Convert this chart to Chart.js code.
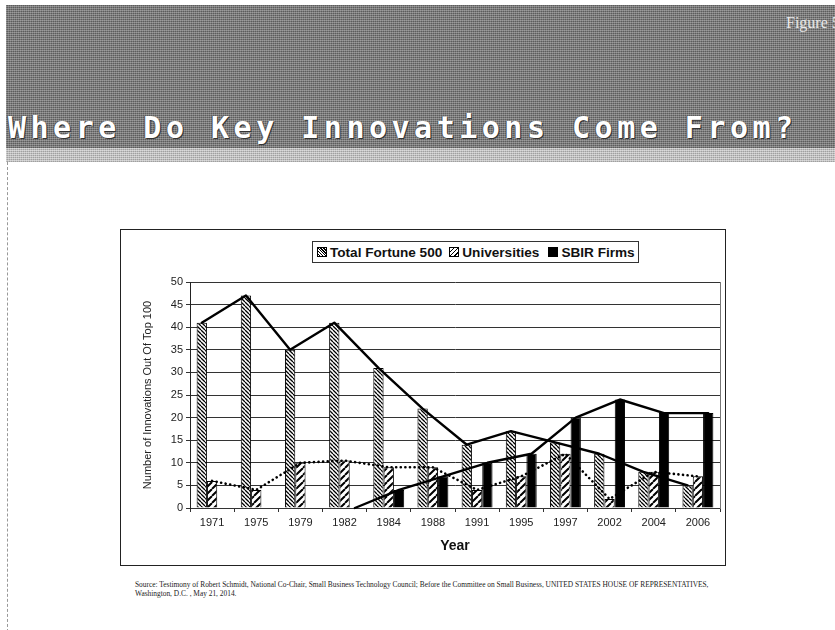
<!DOCTYPE html>
<html>
<head>
<meta charset="utf-8">
<script src="https://cdn.jsdelivr.net/npm/chart.js@4/dist/chart.umd.min.js"></script>
<style>
  body { margin: 0; width: 835px; height: 630px; background: #fff; position: relative; overflow: hidden; font-family: "Liberation Sans", Arial, sans-serif; }
  #header { position: absolute; left: 6px; top: 5px; width: 835px; height: 143px;
    background:
      repeating-linear-gradient(90deg, rgba(255,255,255,0.18) 0 1px, rgba(0,0,0,0) 1px 2px),
      repeating-linear-gradient(0deg, #5c5c5c 0 1px, #868686 1px 2px); }
  #stripe { position: absolute; left: 6px; top: 148px; width: 835px; height: 14px;
    background:
      repeating-linear-gradient(90deg, rgba(255,255,255,0.3) 0 1px, rgba(0,0,0,0) 1px 2px),
      repeating-linear-gradient(0deg, #a0a0a0 0 1px, #cacaca 1px 2px); }
  #fig { position: absolute; left: 786px; top: 14px; font: 16px "Liberation Serif", serif; color: #e8e8e8; white-space: nowrap; }
  #title { position: absolute; left: 8px; top: 110px; font: bold 30px "DejaVu Sans Mono", monospace; letter-spacing: 4.5px;
    color: #fff; text-shadow: 1px 1px 0 #333, -1px 0 0 #555; white-space: nowrap; }
  #leftline { position: absolute; left: 7px; top: 162px; height: 470px; border-left: 1px dashed #999; }
  #frame { position: absolute; left: 120px; top: 229px; width: 604px; height: 335px; border: 1px solid #222; }
  #legend { position: absolute; left: 312px; top: 241px; width: 325px; height: 20px; border: 1px solid #333; background: #fff;
    display: flex; align-items: center; font: bold 13.6px "Liberation Sans", Arial, sans-serif; color: #111; white-space: nowrap; }
  #legend span.sw { display: inline-block; width: 8px; height: 8px; border: 1px solid #000; margin: 0 3px 0 4px; }
  #source { position: absolute; left: 135px; top: 581px; width: 600px; font: 7.4px "Liberation Serif", serif; color: #222; line-height: 8.5px; }
</style>
</head>
<body>
<div id="header"></div>
<div id="stripe"></div>
<div id="fig">Figure 5</div>
<div id="title">Where Do Key Innovations Come From?</div>
<div id="leftline"></div>
<div id="frame"><canvas id="chart" width="604" height="335"></canvas></div>
<div id="legend">
  <span class="sw" style="background: repeating-linear-gradient(45deg, #fff 0 1px, #000 1px 2px);"></span>Total Fortune 500
  <span class="sw" style="margin-left: 7px; background: repeating-linear-gradient(-45deg, #fff 0 2px, #000 2px 3px);"></span>Universities
  <span class="sw" style="margin-left: 9px; background: #000;"></span>SBIR Firms
</div>
<div id="source">Source: Testimony of Robert Schmidt, National Co-Chair, Small Business Technology Council; Before the Committee on Small Business, UNITED STATES HOUSE OF REPRESENTATIVES,<br>Washington, D.C. , May 21, 2014.</div>
<script>
const years = ["1971", "1975", "1979", "1982", "1984", "1988", "1991", "1995", "1997", "2002", "2004", "2006"];
const fortune500 = [41, 47, 35, 41, 31, 22, 14, 17, 14.5, 12, 8, 5];
const universities = [6, 4, 10, 10.5, 9, 9, 4, 7, 12, 2, 8, 7];
const sbirFirms = [null, null, null, 0, 4, 7, 10, 12, 20, 24, 21, 21];
const yTicks = [0, 5, 10, 15, 20, 25, 30, 35, 40, 45, 50];

function hatch(size, lw, back) {
  const c = document.createElement("canvas");
  c.width = c.height = size;
  const g = c.getContext("2d");
  g.fillStyle = "#fff";
  g.fillRect(0, 0, size, size);
  g.strokeStyle = "#000";
  g.lineWidth = lw;
  g.beginPath();
  for (const k of [-size, 0, size]) {
    if (back) { g.moveTo(k, 0); g.lineTo(k + size, size); }
    else { g.moveTo(k + size, 0); g.lineTo(k, size); }
  }
  g.stroke();
  return g.createPattern(c, "repeat");
}

// connects bar tops of a dataset, like the trend lines in the original
const trendLines = {
  id: "trendLines",
  afterDatasetsDraw(chart) {
    const ctx = chart.ctx;
    const specs = [
      { index: 0, dash: [], width: 2.4 },
      { index: 1, dash: [0.1, 4.5], width: 2.6 },
      { index: 2, dash: [], width: 2.4 }
    ];
    specs.forEach(s => {
      const meta = chart.getDatasetMeta(s.index);
      const vals = chart.data.datasets[s.index].data;
      ctx.save();
      ctx.strokeStyle = "#000";
      ctx.lineWidth = s.width;
      ctx.setLineDash(s.dash);
      ctx.lineCap = "round";
      ctx.lineJoin = "round";
      ctx.beginPath();
      let started = false;
      meta.data.forEach((el, i) => {
        if (vals[i] === null) return;
        if (!started) { ctx.moveTo(el.x, el.y); started = true; }
        else ctx.lineTo(el.x, el.y);
      });
      ctx.stroke();
      ctx.restore();
    });
  }
};

window.onload = function () {
  new Chart(document.getElementById("chart"), {
    type: "bar",
    data: {
      labels: years,
      datasets: [
        { label: "Total Fortune 500", data: fortune500, backgroundColor: hatch(4, 1.3, true), borderColor: "#000", borderWidth: 1 },
        { label: "Universities", data: universities, backgroundColor: hatch(7, 2, false), borderColor: "#000", borderWidth: 1 },
        { label: "SBIR Firms", data: sbirFirms, backgroundColor: "#000", borderColor: "#000", borderWidth: 1 }
      ]
    },
    options: {
      responsive: false,
      animation: false,
      layout: { padding: { top: 52, right: 5, left: 0, bottom: 0 } },
      datasets: { bar: { categoryPercentage: 0.7, barPercentage: 1.0 } },
      plugins: { legend: { display: false }, tooltip: { enabled: false } },
      scales: {
        x: {
          grid: { drawOnChartArea: false, drawTicks: true, tickLength: 4, color: "#333" },
          border: { color: "#333" },
          ticks: { color: "#222", font: { size: 11, family: "Liberation Sans" }, padding: 4, maxRotation: 0 },
          title: { display: true, text: "Year", color: "#111", font: { size: 14, weight: "bold", family: "Liberation Sans" }, padding: { top: 0, bottom: 10 } },
          afterFit(scale) { scale.height = 57; }
        },
        y: {
          min: 0, max: 50,
          grid: { color: "#333", tickLength: 4 },
          border: { color: "#222" },
          afterBuildTicks(scale) { scale.ticks = yTicks.map(v => ({ value: v })); },
          ticks: { color: "#222", font: { size: 11, family: "Liberation Sans" }, padding: 3 },
          title: { display: true, text: "Number of Innovations Out Of Top 100", color: "#222", font: { size: 11, family: "Liberation Sans" }, padding: { top: 20, bottom: 0 } },
          afterFit(scale) { scale.width = 69; }
        },
        y2: {
          position: "right", min: 0, max: 50,
          grid: { drawOnChartArea: false, drawTicks: false },
          border: { color: "#777" },
          ticks: { display: false },
          afterFit(scale) { scale.width = 0; }
        }
      }
    },
    plugins: [trendLines]
  });
};
</script>
</body>
</html>
